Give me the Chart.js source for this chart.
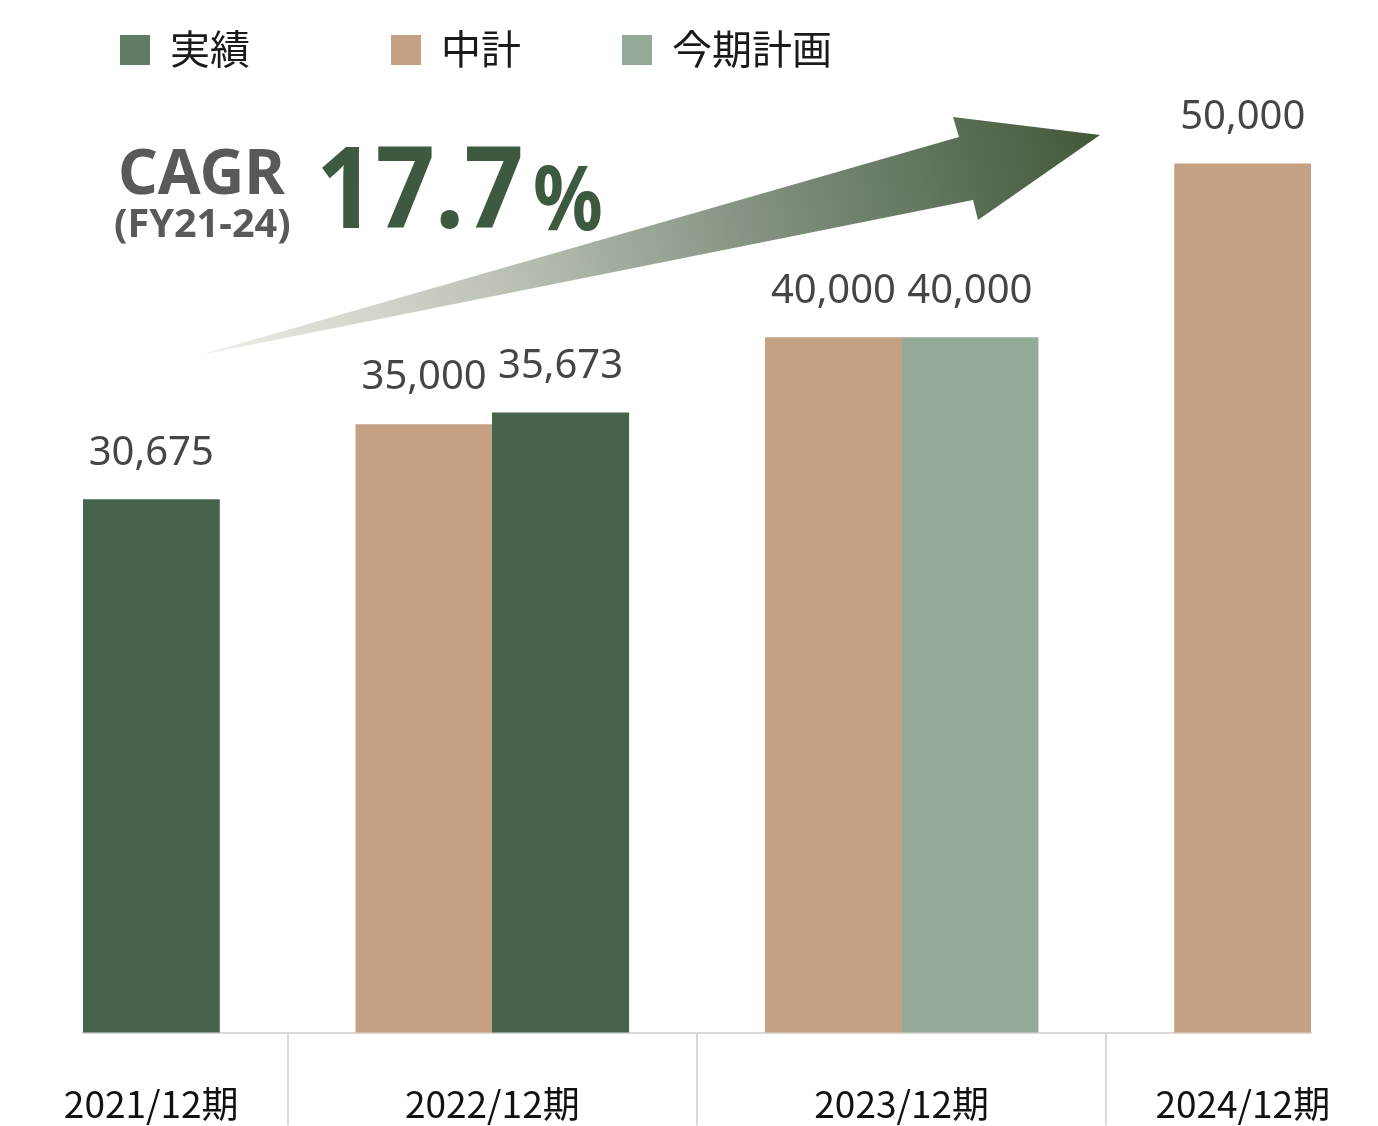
<!DOCTYPE html>
<html>
<head>
<meta charset="utf-8">
<script src="https://cdn.jsdelivr.net/npm/chart.js@4.4.1/dist/chart.umd.min.js"></script>
<style>
html,body{margin:0;padding:0;background:#fff;overflow:hidden}
canvas{display:block}
</style>
</head>
<body>
<canvas id="c" width="1378" height="1126"></canvas>
<script>
// ---- data ----
const categories = ['2021/12期', '2022/12期', '2023/12期', '2024/12期'];
const seriesLabels = ['実績', '中計', '今期計画'];
const actualValues = [30675, 35673, null, null];     // 実績
const planValues = [null, 35000, 40000, 50000];      // 中計
const forecastValues = [null, null, 40000, null];    // 今期計画
const cagrTitle = 'CAGR';
const cagrPeriod = '(FY21-24)';
const cagrNumber = '17.7';
const cagrUnit = '%';

// ---- styles ----
const barColors = ['#46634B', '#C4A182', '#93AB96'];
const legendColors = ['#5F7D65', '#C4A182', '#93AB96'];
const barOrderInCategory = [1, 0, 2]; // 中計 left, then 実績 / 今期計画
const seriesValues = [actualValues, planValues, forecastValues];

// ---- layout of bars: each category gets (number of bars + 1) slots ----
const datasets = seriesLabels.map((label, s) => ({
  label, data: [], backgroundColor: barColors[s], borderWidth: 0,
  grouped: false, barPercentage: 1, categoryPercentage: 1
}));
const centerTicks = [];
const boundaryTicks = [];
let cursor = 0;
categories.forEach((cat, i) => {
  const present = [0, 1, 2]
    .filter(s => seriesValues[s][i] !== null)
    .sort((a, b) => barOrderInCategory[a] - barOrderInCategory[b]);
  present.forEach((s, j) => {
    datasets[s].data.push({ x: cursor + 1 + j, y: seriesValues[s][i] });
  });
  const width = present.length + 1;
  centerTicks.push({ value: cursor + width / 2, label: cat });
  cursor += width;
  if (i < categories.length - 1) boundaryTicks.push(cursor);
});
const totalSlots = cursor;
const allTicks = centerTicks.map(t => t.value).concat(boundaryTicks).sort((a, b) => a - b);
const labelFor = v => { const t = centerTicks.find(c => Math.abs(c.value - v) < 1e-9); return t ? t.label : ''; };
const isBoundary = v => boundaryTicks.some(b => Math.abs(b - v) < 1e-9);

// ---- plugins ----
const valueLabels = {
  id: 'valueLabels',
  afterDatasetsDraw(chart) {
    const ctx = chart.ctx;
    ctx.save();
    ctx.font = '40px "Noto Sans"';
    ctx.fillStyle = '#454545';
    ctx.textAlign = 'center';
    ctx.textBaseline = 'alphabetic';
    chart.data.datasets.forEach((ds, di) => {
      const meta = chart.getDatasetMeta(di);
      meta.data.forEach((el, k) => {
        const v = ds.data[k].y;
        ctx.fillText(v.toLocaleString('en-US'), el.x, el.y - 35);
      });
    });
    ctx.restore();
  }
};

const customLegend = {
  id: 'customLegend',
  afterDraw(chart) {
    const ctx = chart.ctx;
    const xs = [120, 391, 622];
    ctx.save();
    ctx.font = '40px "Noto Sans CJK JP"';
    ctx.textBaseline = 'middle';
    ctx.textAlign = 'left';
    chart.data.datasets.forEach((ds, i) => {
      ctx.fillStyle = legendColors[i];
      ctx.fillRect(xs[i], 35, 30, 30);
      ctx.fillStyle = '#1a1a1a';
      ctx.fillText(ds.label, xs[i] + 50, 49);
    });
    ctx.restore();
  }
};

function drawScaledText(ctx, text, x, y, font, color, sx) {
  ctx.save();
  ctx.translate(x, y);
  ctx.scale(sx, 1);
  ctx.font = font;
  ctx.fillStyle = color;
  ctx.textAlign = 'left';
  ctx.textBaseline = 'alphabetic';
  ctx.fillText(text, 0, 0);
  ctx.restore();
}

const cagrAnnotation = {
  id: 'cagrAnnotation',
  afterDraw(chart) {
    const ctx = chart.ctx;
    // arrow
    ctx.save();
    const g = ctx.createLinearGradient(200, 355, 1100, 135);
    g.addColorStop(0, 'rgba(240,239,232,1)');
    g.addColorStop(0.35, '#b9c0b2');
    g.addColorStop(0.6, '#869583');
    g.addColorStop(0.8, '#627660');
    g.addColorStop(1, '#435738');
    ctx.fillStyle = g;
    ctx.beginPath();
    ctx.moveTo(200, 355);
    ctx.lineTo(959, 137);
    ctx.lineTo(953, 117);
    ctx.lineTo(1100, 135);
    ctx.lineTo(978, 220);
    ctx.lineTo(973, 200);
    ctx.closePath();
    ctx.fill();
    ctx.restore();
    // texts
    drawScaledText(ctx, cagrTitle, 118, 194, 'bold 62px "Noto Sans"', '#595959', 1);
    drawScaledText(ctx, cagrPeriod, 114, 237, 'bold 40px "Noto Sans"', '#595959', 0.99);
    drawScaledText(ctx, cagrNumber, 316, 228, 'bold 113px "Noto Sans"', '#3D5A41', 0.92);
    drawScaledText(ctx, cagrUnit, 533, 230, 'bold 90px "Noto Sans"', '#3D5A41', 0.86);
  }
};

new Chart(document.getElementById('c'), {
  type: 'bar',
  data: { datasets },
  options: {
    responsive: false,
    animation: false,
    devicePixelRatio: 1,
    layout: { padding: { left: 83, right: 67, top: 77, bottom: 0 } },
    plugins: { legend: { display: false }, tooltip: { enabled: false } },
    scales: {
      x: {
        type: 'linear',
        offset: false,
        min: 0.5,
        max: totalSlots - 0.5,
        afterBuildTicks: sc => { sc.ticks = allTicks.map(v => ({ value: v })); },
        ticks: {
          autoSkip: false, maxRotation: 0, minRotation: 0,
          crossAlign: 'center',
          padding: -22,
          color: '#111111',
          font: { family: '"Noto Sans CJK JP"', size: 37 },
          callback: v => labelFor(v)
        },
        grid: {
          offset: false,
          drawOnChartArea: false,
          drawTicks: true,
          tickLength: 93,
          lineWidth: 2,
          color: c => (c.tick && isBoundary(c.tick.value)) ? '#d9d9d9' : 'rgba(0,0,0,0)'
        },
        border: { display: true, color: '#d9d9d9', width: 2 }
      },
      y: { display: false, min: 0, max: 55000 }
    }
  },
  plugins: [valueLabels, customLegend, cagrAnnotation]
});
</script>
</body>
</html>
